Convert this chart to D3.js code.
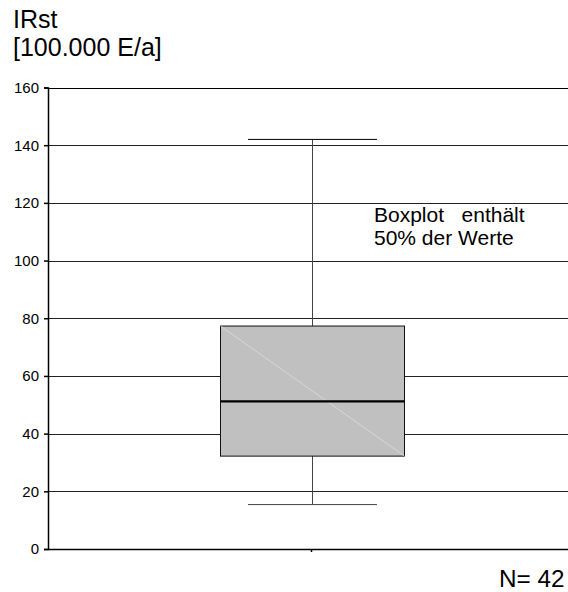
<!DOCTYPE html>
<html><head><meta charset="utf-8">
<script src="https://cdn.jsdelivr.net/npm/d3@7"></script>
<style>body{margin:0;background:#fff}svg{display:block}text{font-family:Arial,"Liberation Sans",sans-serif;fill:#000}</style>
</head><body>
<script>
const yTicks = [0, 20, 40, 60, 80, 100, 120, 140, 160];
const categories = ["IRst"];
const whiskerLow = [15.4];
const q1 = [32.2];
const median = [51.2];
const q3 = [77.3];
const whiskerHigh = [142];
const nLabel = "N= 42";
const titleLines = ["IRst", "[100.000 E/a]"];
const noteLines = ["Boxplot\u00a0\u00a0\u00a0enthält", "50% der Werte"];

const W = 568, H = 592;
const svg = d3.select("body").append("svg").attr("width", W).attr("height", H);
const mLeft = 48, mRight = 568, mTop = 87.5, mBottom = 549;
const y = d3.scaleLinear().domain([0, 160]).range([mBottom, mTop]);
const x = d3.scaleBand().domain(categories).range([mLeft, 575]).padding(0);

// gridlines
svg.append("g").selectAll("line").data(yTicks.filter(d => d > 0)).join("line")
  .attr("x1", mLeft).attr("x2", mRight)
  .attr("y1", d => Math.round(y(d)) + 0.5).attr("y2", d => Math.round(y(d)) + 0.5)
  .attr("stroke", d => d === 160 ? "#000" : "#222").attr("stroke-width", 1);

// y axis
const yAxis = d3.axisLeft(y).tickValues(yTicks).tickSize(4).tickPadding(5);
const gy = svg.append("g").attr("transform", `translate(${mLeft},0)`).call(yAxis);
gy.select(".domain").attr("stroke", "#000").attr("stroke-width", 1.5);
gy.selectAll(".tick line").attr("stroke", "#000").attr("stroke-width", 1.5);
gy.selectAll(".tick text").attr("font-size", 15).attr("font-family", "Arial, Liberation Sans, sans-serif").attr("fill", "#000");

// x axis
const xAxis = d3.axisBottom(x).tickSize(3).tickFormat("");
const gx = svg.append("g").attr("transform", `translate(0,${mBottom})`).call(xAxis);
gx.select(".domain").attr("d", `M${mLeft},0.5H${mRight}`).attr("stroke", "#000").attr("stroke-width", 1.5);
gx.selectAll(".tick line").attr("stroke", "#000").attr("stroke-width", 1.5);

// box
const boxW = 184, capW = 129;
categories.forEach((c, i) => {
  const cx = Math.round(x(c) + x.bandwidth() / 2) + 0.5;
  const g = svg.append("g");
  g.append("line").attr("x1", cx).attr("x2", cx).attr("y1", y(whiskerHigh[i])).attr("y2", y(whiskerLow[i]))
    .attr("stroke", "#444").attr("stroke-width", 1);
  g.append("line").attr("x1", cx - capW / 2).attr("x2", cx + capW / 2).attr("y1", y(whiskerHigh[i])).attr("y2", y(whiskerHigh[i]))
    .attr("stroke", "#000").attr("stroke-width", 1);
  g.append("line").attr("x1", cx - capW / 2).attr("x2", cx + capW / 2).attr("y1", y(whiskerLow[i])).attr("y2", y(whiskerLow[i]))
    .attr("stroke", "#444").attr("stroke-width", 1);
  g.append("rect").attr("x", cx - boxW / 2).attr("y", y(q3[i])).attr("width", boxW).attr("height", y(q1[i]) - y(q3[i]))
    .attr("fill", "#c0c0c0").attr("stroke", "#111").attr("stroke-width", 1);
  g.append("line").attr("x1", cx - boxW / 2).attr("y1", y(q3[i])).attr("x2", cx + boxW / 2).attr("y2", y(q1[i]))
    .attr("stroke", "#dcdcdc").attr("stroke-width", 0.8);
  g.append("line").attr("x1", cx - boxW / 2).attr("x2", cx + boxW / 2).attr("y1", y(median[i])).attr("y2", y(median[i]))
    .attr("stroke", "#000").attr("stroke-width", 2.2);
});

// titles
svg.append("g").selectAll("text").data(titleLines).join("text")
  .attr("x", 13).attr("y", (d, i) => 28 + i * 27.5).attr("font-size", 25).text(d => d);

svg.append("g").selectAll("text").data(noteLines).join("text")
  .attr("x", 374).attr("y", (d, i) => 222 + i * 23).attr("font-size", 21).text(d => d);

svg.append("text").attr("x", 499).attr("y", 587).attr("font-size", 24.3).text(nLabel);
</script>
</body></html>
